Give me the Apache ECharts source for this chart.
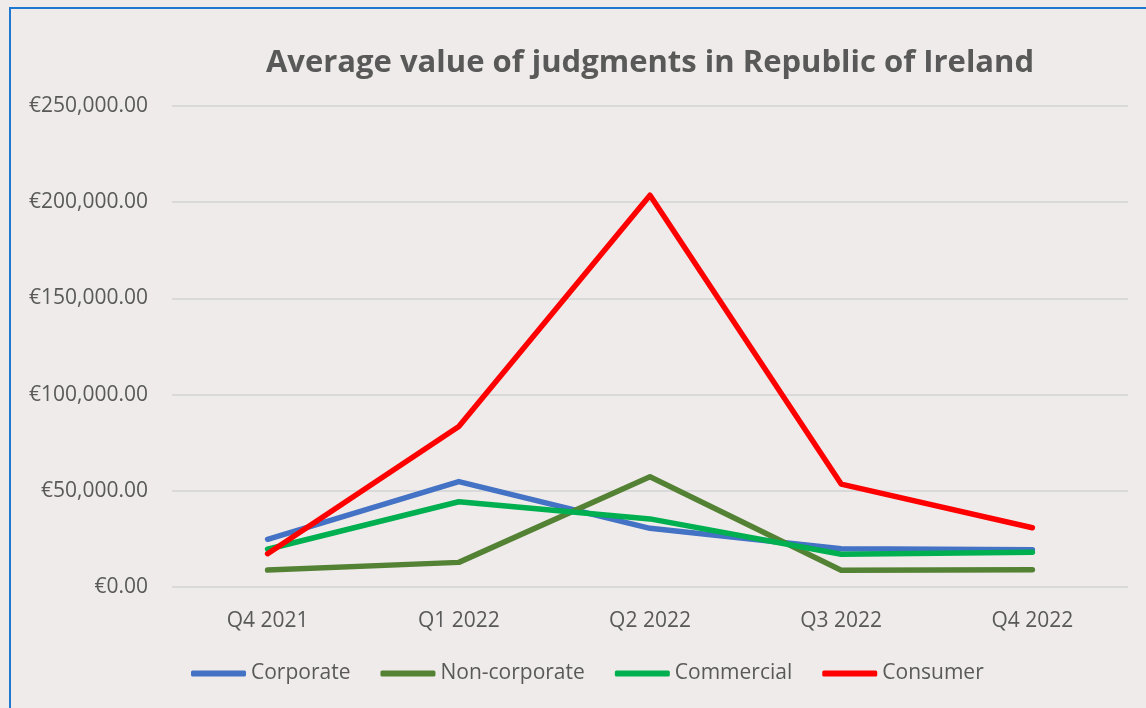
<!DOCTYPE html>
<html>
<head>
<meta charset="utf-8">
<script src="https://cdn.jsdelivr.net/npm/echarts@6/dist/echarts.min.js"></script>
<style>
	html, body { margin: 0; padding: 0; background: #efebea; overflow: hidden; }
	#frame {
		position: absolute; left: 9px; top: 7px; width: 1160px; height: 720px;
		border-left: 2px solid #1f78d0; border-top: 2px solid #1f78d0;
	}
	#chart { position: absolute; left: 0; top: 0; width: 1146px; height: 708px; }
</style>
</head>
<body>
<div id="frame"></div>
<div id="chart"></div>
<script>
	var quarters = ['Q4 2021', 'Q1 2022', 'Q2 2022', 'Q3 2022', 'Q4 2022'];
	var corporate = [24800, 54800, 30500, 19900, 19400];
	var nonCorporate = [8800, 12800, 57300, 8700, 9000];
	var commercial = [19600, 44300, 35400, 17000, 18000];
	var consumer = [17300, 83400, 203600, 53500, 30800];

	var txt = '#595959';
	var font = '"Open Sans", sans-serif';

	function euro(v){
		// €250,000.00 style
		return '€' + v.toLocaleString('en-US', {minimumFractionDigits: 2, maximumFractionDigits: 2});
	}

	function mkLine(name, data, color){
		return {
			name: name,
			type: 'line',
			data: data,
			symbol: 'none',
			lineStyle: { color: color, width: 5.5, cap: 'round', join: 'round' },
			itemStyle: { color: color }
		};
	}

	var myChart = echarts.init(document.getElementById('chart'));
	var option = {
		backgroundColor: 'transparent',
		animation: false,
		title: {
			text: 'Average value of judgments in Republic of Ireland',
			left: 645, top: 43, textAlign: 'center',
			textStyle: { fontFamily: font, fontSize: 31, fontWeight: 'bold', color: txt }
		},
		legend: {
			bottom: 19, left: 186,
			icon: 'roundRect', itemWidth: 55, itemHeight: 6, itemGap: 30,
			textStyle: { fontFamily: font, fontSize: 21, color: txt }
		},
		grid: { left: 172, right: 18, top: 106, bottom: 121, containLabel: false },
		xAxis: {
			type: 'category',
			data: quarters,
			axisLine: { show: false },
			axisTick: { show: false },
			axisLabel: { fontFamily: font, fontSize: 21, color: txt, margin: 24 }
		},
		yAxis: {
			type: 'value',
			min: 0, max: 250000, interval: 50000,
			axisLine: { show: false },
			axisTick: { show: false },
			splitLine: { lineStyle: { color: '#d9d9d9', width: 2 } },
			axisLabel: { fontFamily: font, fontSize: 21, color: txt, margin: 24, formatter: euro }
		},
		series: [
			mkLine('Corporate', corporate, '#4472c4'),
			mkLine('Non-corporate', nonCorporate, '#548235'),
			mkLine('Commercial', commercial, '#00b050'),
			mkLine('Consumer', consumer, '#ff0000')
		]
	};
	myChart.setOption(option, true);
</script>
</body>
</html>
